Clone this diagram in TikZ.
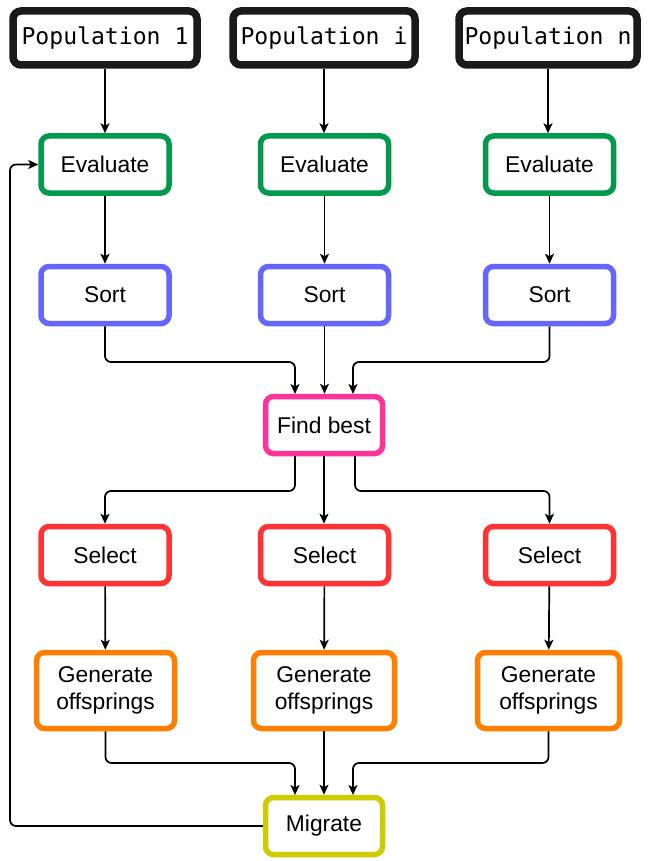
\documentclass[tikz,border=0pt]{standalone}
\usepackage{fontspec}
\setmainfont{Liberation Sans}
\newfontfamily\monof{DejaVu Sans Mono}
\usetikzlibrary{arrows.meta}
\definecolor{cgreen}{HTML}{00994D}
\definecolor{cblue}{HTML}{6666FF}
\definecolor{cpink}{HTML}{FF3399}
\definecolor{cred}{HTML}{FF3333}
\definecolor{corange}{HTML}{FF8000}
\definecolor{colive}{HTML}{CCCC00}
\definecolor{cblack}{HTML}{1A1A1A}
\begin{document}
\begin{tikzpicture}[x=1pt,y=-1pt,
  box/.style={draw, rounded corners=8pt, line width=5.5pt, fill=white, align=center,
    inner sep=0pt, font=\fontsize{22.8}{27}\selectfont},
  popbox/.style={box, line width=7.5pt, draw=cblack, minimum width=184pt, minimum height=54pt,
    font=\monof\fontsize{23.1}{27}\selectfont},
  stdbox/.style={box, minimum width=128pt, minimum height=57pt},
  conn/.style={line width=1.7pt, rounded corners=6pt, -{Stealth[length=10pt,width=9pt,inset=2.5pt]}},
  plain/.style={line width=1.7pt, rounded corners=6pt}]
\useasboundingbox (0,0) rectangle (648,861);
\fill[white] (0,0) rectangle (648,861);
% population
\node[popbox] (p1) at (105,38) {Population 1};
\node[popbox, minimum width=182pt] (pi) at (324,38) {Population i};
\node[popbox, minimum width=178pt] (pn) at (548,38) {Population n};
% evaluate
\node[stdbox, draw=cgreen] (e1) at (105,164.5) {Evaluate};
\node[stdbox, draw=cgreen] (e2) at (324.5,164.5) {Evaluate};
\node[stdbox, draw=cgreen] (e3) at (549.5,164.5) {Evaluate};
% sort
\node[stdbox, draw=cblue] (s1) at (105,295) {Sort};
\node[stdbox, draw=cblue] (s2) at (324.5,295) {Sort};
\node[stdbox, draw=cblue] (s3) at (549.5,295) {Sort};
% find best
\node[stdbox, draw=cpink, minimum width=117pt] (fb) at (324,425) {Find best};
% select
\node[stdbox, draw=cred] (se1) at (105,555) {Select};
\node[stdbox, draw=cred] (se2) at (324.5,555) {Select};
\node[stdbox, draw=cred] (se3) at (549.5,555) {Select};
% generate
\node[stdbox, draw=corange, minimum width=138pt, minimum height=76pt] (g1) at (105.5,690.5) {Generate\\offsprings};
\node[stdbox, draw=corange, minimum width=141pt, minimum height=76pt] (g2) at (324,690.5) {Generate\\offsprings};
\node[stdbox, draw=corange, minimum width=142pt, minimum height=76pt] (g3) at (548.5,690.5) {Generate\\offsprings};
% migrate
\node[stdbox, draw=colive, minimum width=117pt] (mg) at (324,826) {Migrate};
% coordinates
\coordinate (loopx) at (10,0);
% arrows top
\draw[conn] (p1.south) -- (e1.north);
\draw[conn] (pi.south) -- (pi.south |- e2.north);
\draw[conn] (pn.south) -- (pn.south |- e3.north);
\draw[conn] (e1) -- (s1);
\draw[conn] (e2) -- (s2);
\draw[conn] (e3) -- (s3);
% to find best
\draw[conn] (s1.south) |- (295,362) -- (295,394);
\draw[conn] (s2.south) -- (s2.south |- fb.north);
\draw[conn] (s3.south) |- (353,362) -- (353,394);
% from find best
\draw[conn] (295,456) |- (105,491) -- (se1.north);
\draw[conn] (fb.south) -- (fb.south |- se2.north);
\draw[conn] (355,456) |- (549.5,491) -- (se3.north);
% select to generate
\draw[conn] (se1) -- (g1);
\draw[conn] (se2) -- (g2);
\draw[conn] (se3) -- (g3);
% to migrate
\draw[conn] (g1.south) |- (295,763) -- (295,795);
\draw[conn] (g2.south) -- (g2.south |- mg.north);
\draw[conn] (g3.south) |- (353,763) -- (353,795);
% loop back
\draw[conn] (mg.west) -| (loopx |- e1.west) -- (e1.west);
\end{tikzpicture}
\end{document}
